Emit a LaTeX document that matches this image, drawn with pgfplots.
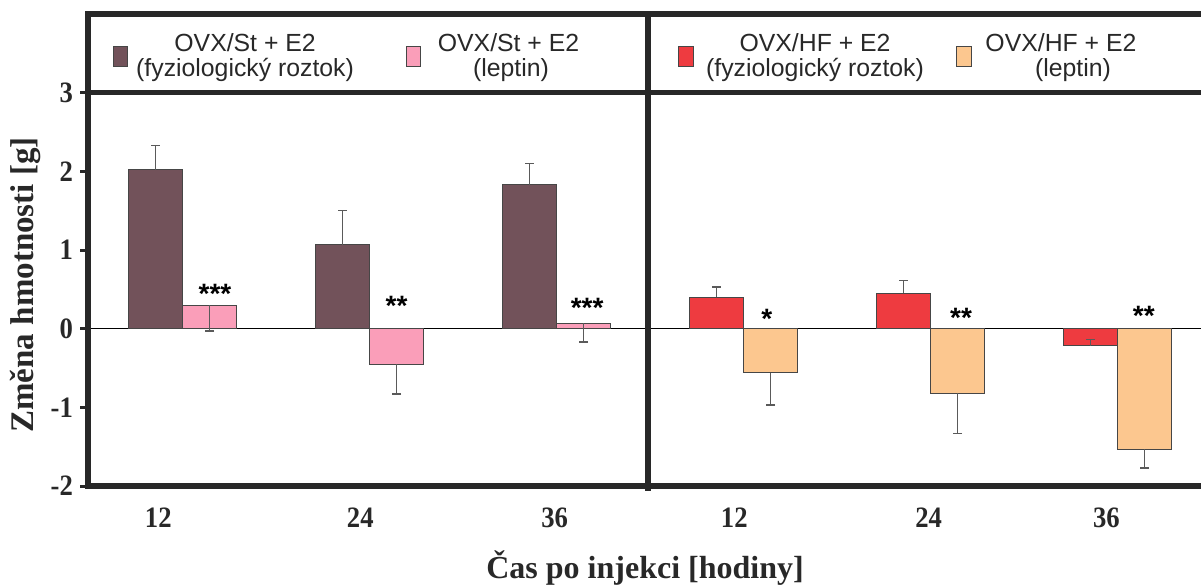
\documentclass[border=0pt]{standalone}
\usepackage{fontspec}
\setmainfont{Liberation Sans}
\newfontfamily\serifc[FakeStretch=0.9]{Liberation Serif}
\newfontfamily\serifn{Liberation Serif}
\usepackage{pgfplots}
\pgfplotsset{compat=1.18}
\definecolor{cbrown}{RGB}{114,82,90}
\definecolor{cpink}{RGB}{250,158,185}
\definecolor{cred}{RGB}{238,59,64}
\definecolor{corange}{RGB}{252,199,143}
\definecolor{frame}{RGB}{40,40,40}
\definecolor{edge}{RGB}{70,70,70}
\definecolor{errc}{RGB}{90,90,90}
\pgfplotsset{
  barbase/.style={ybar, bar width=0.289, bar shift=0pt, draw=edge, line width=0.5pt},
  errplus/.style={error bars/.cd, y dir=plus, y explicit, error mark=-,
     error bar style={errc, line width=0.6pt},
     error mark options={rotate=90, errc, line width=0.6pt, mark size=2.2pt}},
  errminus/.style={error bars/.cd, y dir=minus, y explicit, error mark=-,
     error bar style={errc, line width=0.6pt},
     error mark options={rotate=90, errc, line width=0.6pt, mark size=2.2pt}},
}
\begin{document}
\begin{tikzpicture}
\useasboundingbox (0,0) rectangle (600.5pt,293pt);
\begin{axis}[
  at={(44pt,50pt)}, anchor=south west,
  scale only axis, width=556.5pt, height=236pt,
  xmin=-0.506, xmax=5.446, ymin=-2, ymax=4,
  clip=false,
  axis line style={draw=none},
  ytick={-2,-1,0,1,2,3},
  yticklabels={-2,-1,0,1,2,3},
  ytick pos=left,
  tick align=outside,
  major tick length=4pt,
  ytick style={line width=1.5pt, color=frame},
  xtick={-0.13,0.95,1.99,2.95,3.99,4.94},
  xticklabels={12,24,36,12,24,36},
  xtick style={draw=none},
  xticklabel style={yshift=-3.5pt},
  ticklabel style={font=\serifc\bfseries\fontsize{14.8}{16}\selectfont, text=frame},
  xlabel={Čas po injekci [hodiny]},
  ylabel={Změna hmotnosti [g]},
  xlabel style={font=\serifn\bfseries\fontsize{16}{18}\selectfont, text=frame, at={(axis description cs:0.5005,-0.174)}, anchor=center},
  ylabel style={font=\serifn\bfseries\fontsize{16.5}{18}\selectfont, text=frame, at={(axis description cs:-0.0566,0.426)}, anchor=center},
]
\draw[black, line width=0.5pt] (axis cs:-0.506,0) -- (axis cs:5.446,0);

\addplot[barbase, fill=cbrown, errplus]
  coordinates {(-0.1445,2.02) +- (0,0.31) (0.8555,1.07) +- (0,0.43) (1.8555,1.83) +- (0,0.27)};
\addplot[barbase, fill=cpink, errminus]
  coordinates {(0.1445,0.30) +- (0,0.33) (1.1445,-0.45) +- (0,0.38) (2.1445,0.07) +- (0,0.24)};
\addplot[barbase, fill=cred, errplus]
  coordinates {(2.8555,0.40) +- (0,0.13) (3.8555,0.45) +- (0,0.16) (4.8555,-0.22) +- (0,0.08)};
\addplot[barbase, fill=corange, errminus]
  coordinates {(3.1445,-0.56) +- (0,0.41) (4.1445,-0.82) +- (0,0.51) (5.1445,-1.53) +- (0,0.24)};

% significance marks
\begin{scope}[every node/.style={font=\bfseries\fontsize{14}{14}\selectfont, anchor=base, inner sep=0pt}]
\node at (axis cs:0.173,0.32) {***};
\node at (axis cs:1.144,0.17) {**};
\node at (axis cs:2.163,0.14) {***};
\node at (axis cs:3.124,0.00) {*};
\node at (axis cs:4.163,0.01) {**};
\node at (axis cs:5.14,0.04) {**};
\end{scope}

% frame
\draw[frame, line width=2.6pt, line join=miter]
  (rel axis cs:1,1) -- (rel axis cs:0,1) -- (rel axis cs:0,0) -- (rel axis cs:1,0);
\draw[frame, line width=2.6pt] (axis cs:-0.506,3) -- (axis cs:5.446,3);
\draw[frame, line width=2.6pt] (axis cs:2.489,-2.06) -- (axis cs:2.489,4);

% legend
\begin{scope}[every node/.style={font=\fontsize{12.4}{13}\selectfont, anchor=base, inner sep=0pt, text=frame}]
\filldraw[fill=cbrown, draw=edge, line width=0.5pt] (axis cs:-0.3685,3.331) rectangle (axis cs:-0.293,3.585);
\node at (axis cs:0.334,3.524) {OVX/St + E2};
\node at (axis cs:0.334,3.204) {(fyziologický roztok)};
\filldraw[fill=cpink, draw=edge, line width=0.5pt] (axis cs:1.195,3.331) rectangle (axis cs:1.272,3.585);
\node at (axis cs:1.743,3.524) {OVX/St + E2};
\node at (axis cs:1.756,3.204) {(leptin)};
\filldraw[fill=cred, draw=edge, line width=0.5pt] (axis cs:2.652,3.331) rectangle (axis cs:2.733,3.585);
\node at (axis cs:3.382,3.524) {OVX/HF + E2};
\node at (axis cs:3.382,3.204) {(fyziologický roztok)};
\filldraw[fill=corange, draw=edge, line width=0.5pt] (axis cs:4.136,3.331) rectangle (axis cs:4.216,3.585);
\node at (axis cs:4.697,3.524) {OVX/HF + E2};
\node at (axis cs:4.761,3.204) {(leptin)};
\end{scope}
\end{axis}
\end{tikzpicture}
\end{document}
